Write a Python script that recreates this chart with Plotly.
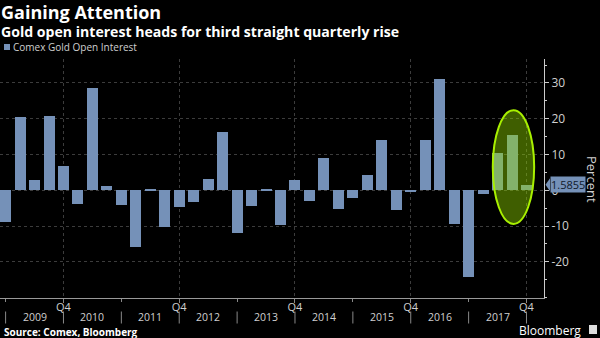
import plotly.graph_objects as go

# Quarterly % change in Comex gold open interest, 2008 Q4 .. 2017 Q4
quarters = [
    "2008Q4",
    "2009Q1", "2009Q2", "2009Q3", "2009Q4",
    "2010Q1", "2010Q2", "2010Q3", "2010Q4",
    "2011Q1", "2011Q2", "2011Q3", "2011Q4",
    "2012Q1", "2012Q2", "2012Q3", "2012Q4",
    "2013Q1", "2013Q2", "2013Q3", "2013Q4",
    "2014Q1", "2014Q2", "2014Q3", "2014Q4",
    "2015Q1", "2015Q2", "2015Q3", "2015Q4",
    "2016Q1", "2016Q2", "2016Q3", "2016Q4",
    "2017Q1", "2017Q2", "2017Q3", "2017Q4",
]
values = [
    -8.8,
    20.4, 3.0, 20.9, 6.9,
    -3.7, 28.7, 1.1, -4.2,
    -15.8, 0.1, -10.3, -4.6,
    -3.3, 3.3, 16.4, -11.8,
    -4.5, 0.3, -9.6, 2.8,
    -3.0, 9.1, -5.1, -2.1,
    4.4, 14.1, -5.6, -0.4,
    14.1, 31.2, -9.5, -24.3,
    -1.1, 10.4, 15.4, 1.5855,
]
series_name = "Comex Gold Open Interest"
years = ["2009", "2010", "2011", "2012", "2013", "2014", "2015", "2016", "2017"]
q4_ticks = ["Q4", "Q4", "Q4", "Q4", "Q4"]
y_ticks = [30, 20, 10, 0, -10, -20]
y_ticktext = ["30", "20", "10", "0", "-10", "-20"]

last_value = values[-1]
idx = list(range(len(quarters)))
q4_pos = [i for i, q in enumerate(quarters) if q.endswith("Q4") and int(q[:4]) % 2 == 1]
odd_pos = [i for i, q in enumerate(quarters) if q.endswith("Q4") and int(q[:4]) % 2 == 0]
year_end_pos = [i for i, q in enumerate(quarters) if q.endswith("Q4")]

BAR = "#7591b8"
TXT = "#d0d0d0"
FONT = "Open Sans"

YMIN, YMAX = -30.1, 36.7
W, H = 600, 338
ML, MR, MT, MB = 0, 56, 59, 40
PH = H - MT - MB
PW = W - ML - MR


def py(pix):
    return (H - MB - pix) / PH


def px(pix):
    return (pix - ML) / PW


fig = go.Figure()
fig.add_trace(go.Bar(
    x=idx, y=values, name=series_name,
    marker=dict(color=BAR, line=dict(width=0)), width=0.76,
    showlegend=False,
))

fig.update_layout(
    width=W, height=H,
    margin=dict(l=ML, r=MR, t=MT, b=MB),
    paper_bgcolor="black", plot_bgcolor="black",
    font=dict(family=FONT, color=TXT, size=11),
    bargap=0,
    showlegend=False,
    xaxis=dict(
        range=[-0.387, 37.21], showgrid=True, gridcolor="#3c3c3c", griddash="dot",
        gridwidth=1,
        tickmode="array", tickvals=q4_pos, ticktext=q4_ticks,
        ticks="outside", ticklen=4, tickcolor="#888", tickwidth=1,
        ticklabelstandoff=-5,
        tickfont=dict(size=11, color=TXT, family=FONT),
        showline=True, linecolor="#999", linewidth=1,
        zeroline=False,
        minor=dict(tickmode="array", tickvals=odd_pos, ticks="outside", ticklen=3,
                   tickcolor="#888", showgrid=False),
    ),
    yaxis=dict(
        side="right", range=[YMIN, YMAX],
        tickmode="array", tickvals=y_ticks, ticktext=y_ticktext,
        showgrid=True, gridcolor="#3c3c3c", griddash="dot", gridwidth=1,
        zeroline=False,
        ticks="outside", ticklen=4, tickcolor="#ccc",
        tickfont=dict(size=12, color=TXT, family=FONT),
        showline=True, linecolor="#cccccc", linewidth=1,
        minor=dict(dtick=5, ticks="outside", ticklen=2, tickcolor="#ccc", showgrid=False),
    ),
)

ann = []
ann.append(dict(text="<b>Gaining Attention</b>", x=px(0), y=py(12.3), xref="paper", yref="paper",
                xanchor="left", yanchor="middle", showarrow=False, borderpad=0,
                font=dict(size=18, color="white", family=FONT)))
ann.append(dict(text="<b>Gold open interest heads for third straight quarterly rise</b>",
                x=px(0), y=py(31.3), xref="paper", yref="paper",
                xanchor="left", yanchor="middle", showarrow=False, borderpad=0,
                font=dict(size=14.1, color="white", family=FONT)))
ann.append(dict(text=series_name, x=px(11), y=py(47.3), xref="paper", yref="paper",
                xanchor="left", yanchor="middle", showarrow=False,
                font=dict(size=10, color=TXT, family=FONT)))
ann.append(dict(text="<b>Source: Comex, Bloomberg</b>", x=px(2), y=py(331.5), xref="paper", yref="paper",
                xanchor="left", yanchor="middle", showarrow=False,
                font=dict(size=10, color="white", family=FONT)))
ann.append(dict(text="Bloomberg", x=px(583), y=py(330.5), xref="paper", yref="paper",
                xanchor="right", yanchor="middle", showarrow=False,
                font=dict(size=12, color="white", family=FONT)))
ann.append(dict(text="Percent", x=px(592), y=py(179), xref="paper", yref="paper",
                xanchor="center", yanchor="middle", showarrow=False, textangle=90,
                font=dict(size=13, color=TXT, family=FONT)))
for k, yr in enumerate(years):
    ann.append(dict(text=yr, x=(year_end_pos[k] + year_end_pos[k + 1]) / 2, y=py(317.3),
                    xref="x", yref="paper", xanchor="center", yanchor="middle",
                    showarrow=False, font=dict(size=10.5, color=TXT, family=FONT)))
ann.append(dict(text=f"{last_value:.4f}", x=px(549.5), y=last_value, xref="paper", yref="y",
                xanchor="left", yanchor="middle", showarrow=False, bgcolor=BAR,
                borderpad=0, font=dict(size=11, color="#101a2c", family=FONT)))
fig.update_layout(annotations=ann)

shapes = []
# legend swatch
shapes.append(dict(type="rect", xref="paper", yref="paper", x0=px(4), x1=px(10),
                   y0=py(50), y1=py(44), fillcolor=BAR, line=dict(width=0)))
for p in year_end_pos:
    shapes.append(dict(type="line", xref="x", yref="paper", x0=p, x1=p,
                       y0=py(311.5), y1=py(323.5), line=dict(color="#888", width=1)))
# highlight ellipse around the last three quarters
shapes.append(dict(type="circle", xref="x", yref="y", x0=33.67, x1=36.53, y0=-9.4, y1=22.4,
                   fillcolor="rgba(150,225,0,0.42)", line=dict(color="#a8f000", width=2),
                   layer="above"))
# pointer of the last-value tag
yp = (last_value - YMIN) / (YMAX - YMIN)
dy = 6.5 / PH
shapes.append(dict(type="path", xref="paper", yref="paper",
                   path=f"M {px(545.5)} {yp} L {px(550)} {yp + dy} L {px(550)} {yp - dy} Z",
                   fillcolor=BAR, line=dict(width=0)))
# logo square
shapes.append(dict(type="rect", xref="paper", yref="paper", x0=px(589), x1=px(597),
                   y0=py(334), y1=py(325), fillcolor="#dddddd", line=dict(width=0)))
fig.update_layout(shapes=shapes)

fig.write_html("out.html")
